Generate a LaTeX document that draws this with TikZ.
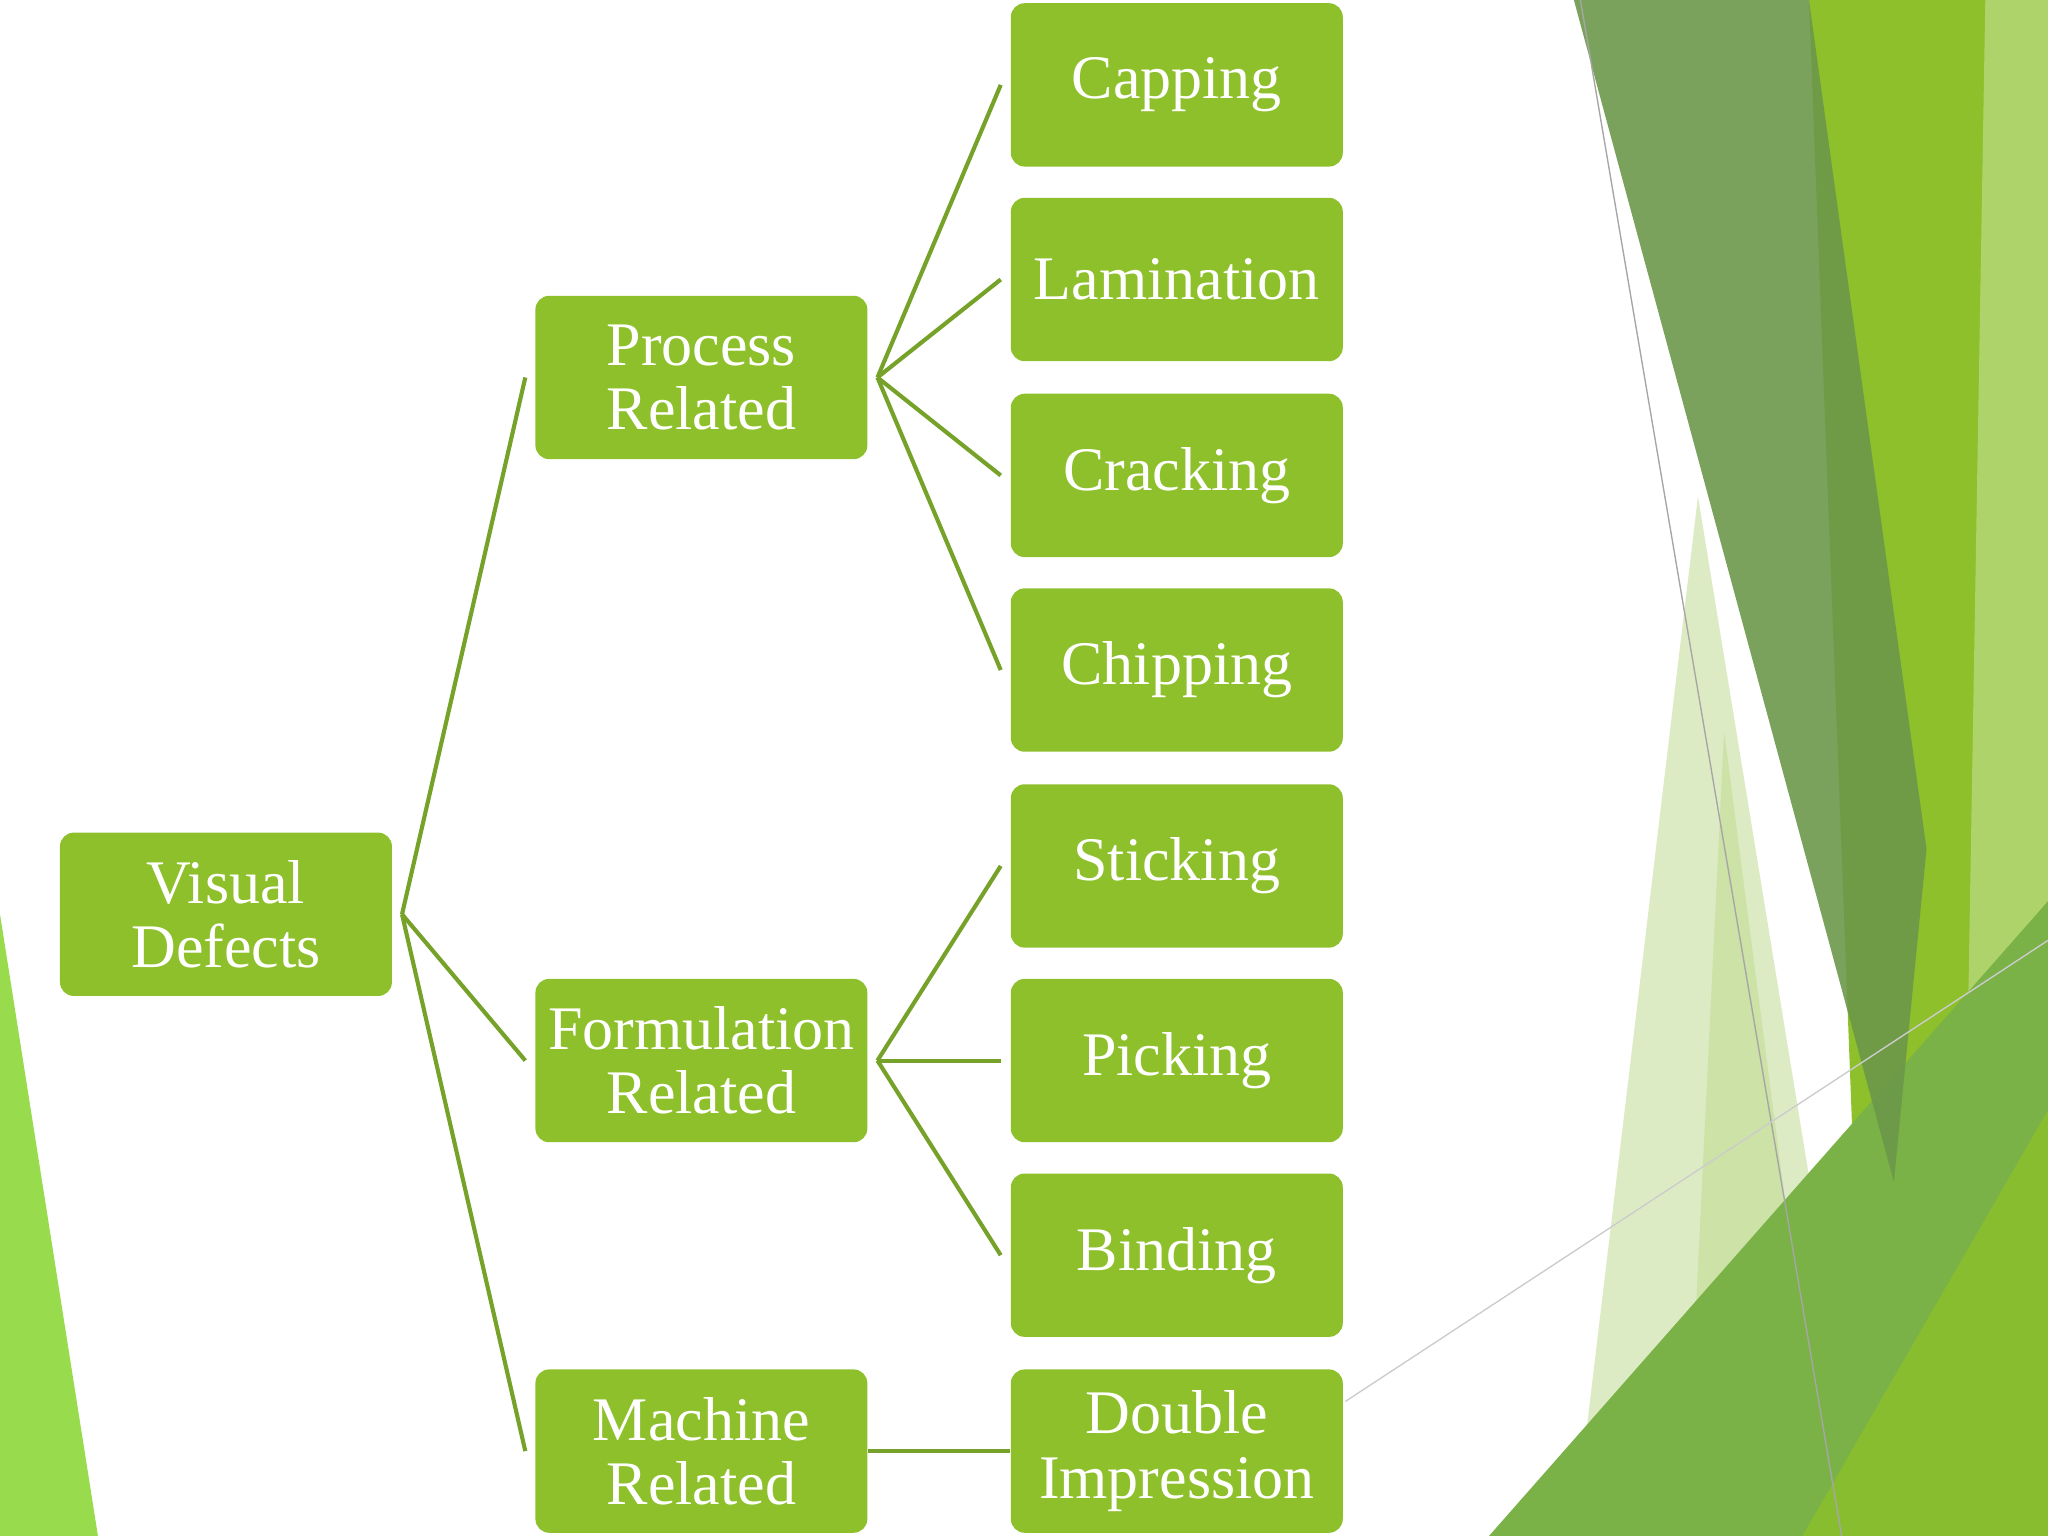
\documentclass[tikz,border=0pt]{standalone}
\usepackage{fontspec}
\setmainfont{Liberation Serif}
\definecolor{boxg}{HTML}{8DC02B}
\definecolor{lineg}{HTML}{76A22A}
\begin{document}
\begin{tikzpicture}[x=0.01cm,y=-0.01cm,
  box/.style={fill=boxg,rounded corners=3pt,minimum width=2.54cm,minimum height=1.25cm,text=white,font=\fontsize{13.5pt}{14pt}\selectfont,align=center,inner sep=1pt},
  conn/.style={draw=lineg,line width=0.9pt}]
\useasboundingbox (0,0) rectangle (1568,1176);
% background shapes
\fill[green!50!lime!60!olive!70] (0,700) -- (75,1176) -- (0,1176) -- cycle;
\fill[fill=boxg] (1385,0) -- (1568,0) -- (1568,1176) -- (1430,1176) -- cycle;
\fill[fill=boxg!70!white] (1520,0) -- (1568,0) -- (1568,1176) -- (1500,1176) -- cycle;
\fill[fill={rgb,255:red,221;green,235;blue,197}] (1300,380) -- (1430,1176) -- (1205,1176) -- cycle;
\fill[fill={rgb,255:red,200;green,224;blue,160},opacity=0.8] (1320,560) -- (1400,1176) -- (1290,1176) -- cycle;
\fill[fill={rgb,255:red,122;green,178;blue,72}] (1140,1176) -- (1568,690) -- (1568,1176) -- cycle;
\fill[fill={rgb,255:red,108;green,152;blue,74},opacity=0.9] (1205,0) -- (1385,0) -- (1475,650) -- (1450,905) -- cycle;
\fill[fill=boxg,opacity=0.8] (1380,1176) -- (1568,850) -- (1568,1176) -- cycle;
\draw[gray!70,line width=0.3pt] (1210,0) -- (1410,1176);
\draw[gray!40,line width=0.3pt] (1030,1073) -- (1568,720);
% nodes
\node[box] (vd) at (173,700) {Visual\\Defects};
\node[box] (pr) at (537,289) {Process\\Related};
\node[box] (fr) at (537,812) {Formulation\\Related};
\node[box] (mr) at (537,1111) {Machine\\Related};
\node[box] (c1) at (901,65) {Capping};
\node[box] (c2) at (901,214) {Lamination};
\node[box] (c3) at (901,364) {Cracking};
\node[box] (c4) at (901,513) {Chipping};
\node[box] (c5) at (901,663) {Sticking};
\node[box] (c6) at (901,812) {Picking};
\node[box] (c7) at (901,961) {Binding};
\node[box] (c8) at (901,1111) {Double\\Impression};
% connectors
\foreach \c in {pr,fr,mr} \draw[conn] ([xshift=2pt]vd.east) -- ([xshift=-2pt]\c.west);
\foreach \c in {c1,c2,c3,c4} \draw[conn] ([xshift=2pt]pr.east) -- ([xshift=-2pt]\c.west);
\foreach \c in {c5,c6,c7} \draw[conn] ([xshift=2pt]fr.east) -- ([xshift=-2pt]\c.west);
\draw[conn] (mr.east) -- (c8.west);
\end{tikzpicture}
\end{document}
